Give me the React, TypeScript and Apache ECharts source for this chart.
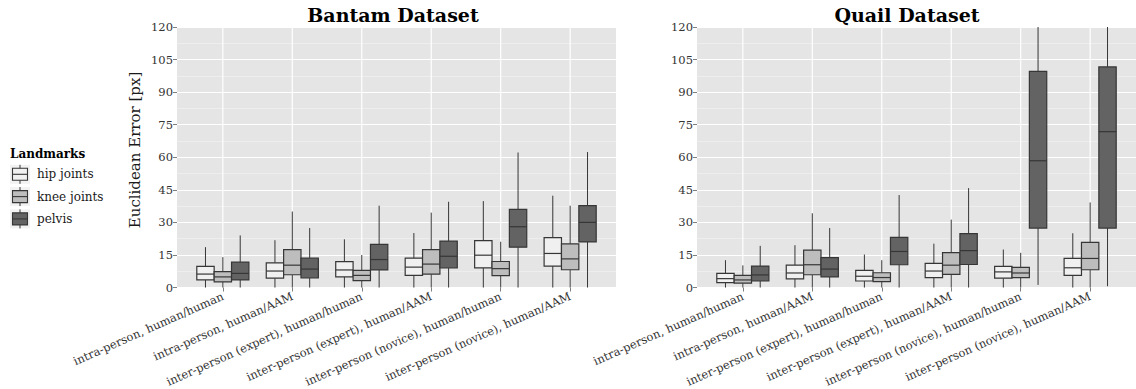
import React, { useEffect, useRef } from 'react';
import * as echarts from 'echarts';

const categories = [
  'intra-person, human/human',
  'intra-person, human/AAM',
  'inter-person (expert), human/human',
  'inter-person (expert), human/AAM',
  'inter-person (novice), human/human',
  'inter-person (novice), human/AAM',
];
const landmarks = ['hip joints', 'knee joints', 'pelvis'];
const panelTitles = ['Bantam Dataset', 'Quail Dataset'];
const yAxisTitle = 'Euclidean Error [px]';
const legendTitle = 'Landmarks';
const yMin = 0;
const yMax = 120;
const yStep = 15;

// each row: [lower whisker, Q1, median, Q3, upper whisker]
const bantamHip = [[0, 3.5, 6.2, 9.7, 18.6], [0, 4.3, 7.6, 11.4, 21.8], [0, 4.9, 8.1, 11.9, 22.2], [0, 5.6, 9.4, 13.5, 25.1], [0, 9.1, 14.9, 21.6, 39.8], [0, 9.9, 15.7, 23, 42.3]];
const bantamKnee = [[0, 2.6, 4.9, 7.3, 14], [0, 5.9, 10.3, 17.5, 35], [0, 3.2, 5.6, 7.9, 15], [0, 6.2, 10.8, 17.5, 34.5], [0, 5.5, 8.7, 12, 21.1], [0, 8.2, 13.2, 20.1, 37.7]];
const bantamPelvis = [[0, 3.5, 6.5, 11.7, 24], [0, 4.4, 8.5, 13.5, 27.4], [0, 8.1, 12.9, 19.9, 37.7], [0, 9, 14.4, 21.4, 39.5], [0, 18.6, 28, 36, 62.2], [0, 21, 30, 37.7, 62.4]];
const quailHip = [[0, 2.3, 4.1, 6.5, 12.6], [0, 4, 6.7, 10.3, 19.5], [0, 3, 5.2, 7.9, 15.2], [0, 4.6, 7.6, 11.1, 20.2], [0, 4.3, 7.2, 9.7, 17.5], [0, 5.6, 9.1, 13.4, 25]];
const quailKnee = [[0, 2, 3.5, 5.6, 10.2], [0, 5.9, 10.5, 17.2, 34.2], [0, 2.7, 4.6, 6.8, 12.6], [0, 6.1, 10.3, 16.1, 31.3], [0, 4.6, 6.7, 9.3, 16], [0, 8.2, 13.4, 20.8, 39.2]];
const quailPelvis = [[0, 3, 5.8, 9.9, 19.2], [0, 4.9, 8.5, 13.8, 27.4], [0, 10.5, 16.6, 23.1, 42.6], [0, 10.6, 17, 24.8, 45.8], [1.2, 27.4, 58.4, 99.6, 160], [0.6, 27.4, 71.8, 101.6, 170]];

const panels = [
  [bantamHip, bantamKnee, bantamPelvis],
  [quailHip, quailKnee, quailPelvis],
];

const FONT = '"DejaVu Serif", serif';
const fills = ['#F0F0F0', '#BDBDBD', '#636363'];
const lineColor = '#363636';
const boxW = 0.25;
const catPositions = categories.map((_, i) => i + 1);

const makeBox = (k: number) => (params: any, api: any) => {
  const xc = api.value(0) + (k - 1) * boxW;
  const cs = params.coordSys;
  const clampY = (y: number) => Math.max(cs.y, Math.min(cs.y + cs.height, y));
  const xPix = api.coord([xc, 0])[0];
  const xL = api.coord([xc - boxW / 2, 0])[0];
  const xR = api.coord([xc + boxW / 2, 0])[0];
  const yLo = clampY(api.coord([xc, api.value(1)])[1]);
  const yQ1 = clampY(api.coord([xc, api.value(2)])[1]);
  const yMed = clampY(api.coord([xc, api.value(3)])[1]);
  const yQ3 = clampY(api.coord([xc, api.value(4)])[1]);
  const yHi = clampY(api.coord([xc, api.value(5)])[1]);
  return {
    type: 'group',
    children: [
      { type: 'line', shape: { x1: xPix, y1: yHi, x2: xPix, y2: yQ3 }, style: { stroke: lineColor, lineWidth: 1 } },
      { type: 'line', shape: { x1: xPix, y1: yQ1, x2: xPix, y2: yLo }, style: { stroke: lineColor, lineWidth: 1 } },
      { type: 'rect', shape: { x: xL, y: yQ3, width: xR - xL, height: yQ1 - yQ3 }, style: { fill: fills[k], stroke: lineColor, lineWidth: 1.2 } },
      { type: 'line', shape: { x1: xL, y1: yMed, x2: xR, y2: yMed }, style: { stroke: lineColor, lineWidth: 1.2 } },
    ],
  };
};

const vGrid = (params: any, api: any) => {
  const cs = params.coordSys;
  const x = api.coord([api.value(0), 0])[0];
  return { type: 'line', shape: { x1: x, y1: cs.y, x2: x, y2: cs.y + cs.height }, style: { stroke: '#FFFFFF', lineWidth: 1.2 } };
};

export default function App() {
  const ref = useRef<HTMLDivElement>(null);
  useEffect(() => {
    document.body.style.margin = '0';
    const chart = echarts.init(ref.current!, null, { renderer: 'svg' });
    const gridLefts = [177, 697];
    const titleX = [393, 907];
    const grids = gridLefts.map((l) => ({
      left: l, top: 27, width: 439, height: 263,
      show: true, backgroundColor: '#E5E5E5', borderWidth: 0,
    }));
    const xAxes = gridLefts.map((_, p) => ({
      type: 'value', gridIndex: p, min: 0.34, max: 6.66,
      splitLine: { show: false },
      axisLine: { show: false },
      axisTick: { show: true, customValues: catPositions, length: 4, lineStyle: { color: '#7F7F7F' } },
      axisLabel: {
        customValues: catPositions, rotate: 24, margin: 8,
        fontFamily: FONT, fontSize: 11.5, color: '#333333',
        formatter: (v: number) => (Number.isInteger(v) ? categories[v - 1] : ''),
      },
    }));
    const yAxes = gridLefts.map((_, p) => ({
      type: 'value', gridIndex: p, min: yMin, max: yMax, interval: yStep,
      axisLine: { show: false },
      axisTick: { show: true, length: 4, lineStyle: { color: '#7F7F7F' } },
      axisLabel: { margin: 4, fontFamily: FONT, fontSize: 11.5, color: '#333333' },
      splitLine: { show: true, lineStyle: { color: '#FFFFFF', width: 1.2 } },
      minorTick: { show: false, splitNumber: 2 },
      minorSplitLine: { show: true, lineStyle: { color: '#F2F2F2', width: 0.7 } },
    }));
    const series: any[] = [];
    panels.forEach((sets, p) => {
      series.push({
        type: 'custom', xAxisIndex: p, yAxisIndex: p, silent: true, z: 1,
        data: catPositions.map((c) => [c, 0]), encode: { x: 0, y: 1 },
        renderItem: vGrid,
      });
      sets.forEach((arr, k) => {
        series.push({
          type: 'custom', name: landmarks[k], xAxisIndex: p, yAxisIndex: p, silent: true, z: 3,
          data: arr.map((d, i) => [i + 1, ...d]),
          encode: { x: 0, y: [1, 2, 3, 4, 5] },
          renderItem: makeBox(k),
        });
      });
    });
    const graphics: any[] = [];
    panelTitles.forEach((t, p) => {
      graphics.push({
        type: 'text', x: titleX[p], y: 15,
        style: { text: t, fontFamily: FONT, fontWeight: 'bold', fontSize: 19, fill: '#000', align: 'center', verticalAlign: 'middle' },
      });
    });
    graphics.push({
      type: 'text', x: 135, y: 150, rotation: Math.PI / 2,
      style: { text: yAxisTitle, fontFamily: FONT, fontSize: 15, fill: '#1A1A1A', align: 'center', verticalAlign: 'middle' },
    });
    graphics.push({
      type: 'text', x: 10, y: 154,
      style: { text: legendTitle, fontFamily: FONT, fontWeight: 'bold', fontSize: 12, fill: '#000', align: 'left', verticalAlign: 'middle' },
    });
    landmarks.forEach((name, k) => {
      const cy = 174.3 + 22.3 * k;
      graphics.push({ type: 'rect', shape: { x: 10, y: cy - 9.5, width: 20, height: 19 }, style: { fill: '#F2F2F2' } });
      graphics.push({ type: 'line', shape: { x1: 20, y1: cy - 9.5, x2: 20, y2: cy + 9.5 }, style: { stroke: lineColor, lineWidth: 1 } });
      graphics.push({ type: 'rect', shape: { x: 12.5, y: cy - 6, width: 15, height: 12 }, style: { fill: fills[k], stroke: lineColor, lineWidth: 1.1 } });
      graphics.push({ type: 'line', shape: { x1: 12.5, y1: cy, x2: 27.5, y2: cy }, style: { stroke: lineColor, lineWidth: 1.1 } });
      graphics.push({
        type: 'text', x: 37, y: cy,
        style: { text: name, fontFamily: FONT, fontSize: 12, fill: '#1A1A1A', align: 'left', verticalAlign: 'middle' },
      });
    });
    chart.setOption({
      animation: false,
      backgroundColor: '#FFFFFF',
      grid: grids,
      xAxis: xAxes,
      yAxis: yAxes,
      series,
      graphic: graphics,
    });
    return () => chart.dispose();
  }, []);
  return <div ref={ref} style={{ width: 1136, height: 389 }} />;
}
